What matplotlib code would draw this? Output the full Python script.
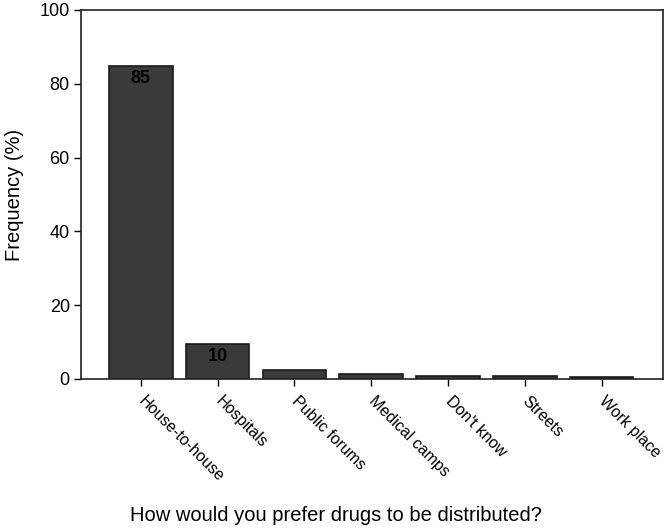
import matplotlib
matplotlib.use("Agg")
import matplotlib.pyplot as plt

categories = ["House-to-house", "Hospitals", "Public forums", "Medical camps",
              "Don't know", "Streets", "Work place"]
values = [84.8, 9.5, 2.4, 1.3, 0.8, 0.8, 0.4]
labels = {0: "85", 1: "10"}
yticks = [0, 20, 40, 60, 80, 100]

plt.rcParams['font.family'] = ['Liberation Sans', 'DejaVu Sans']

fig = plt.figure(figsize=(6.72, 5.31), dpi=100)
ax = fig.add_axes([0.1205, 0.2863, 0.866, 0.695])

x = list(range(len(categories)))
ax.bar(x, values, width=0.83, color='#3a3a3a', edgecolor='#1a1a1a', linewidth=1.2)
for i, t in labels.items():
    ax.text(i, values[i] - 1.0, t, ha='center', va='top', fontsize=13,
            fontweight='bold', color='black')

ax.set_xlim(-0.78, 6.8)
ax.set_ylim(0, 100)
ax.set_yticks(yticks)
ax.set_xticks(x)
ax.set_xticklabels(categories, rotation=-45, ha='left', va='center',
                   rotation_mode='anchor', fontsize=11.5)
ax.tick_params(axis='y', labelsize=13, direction='out', length=5, width=1, pad=3)
ax.tick_params(axis='x', direction='out', length=5, width=1, pad=9)
for s in ax.spines.values():
    s.set_linewidth(1.2)
    s.set_color('#222222')

ax.set_ylabel("Frequency (%)", fontsize=14.5, labelpad=11)
fig.text(0.5, 0.018, "How would you prefer drugs to be distributed?", ha='center',
         fontsize=14.5)

fig.savefig("out.png", dpi=100)
